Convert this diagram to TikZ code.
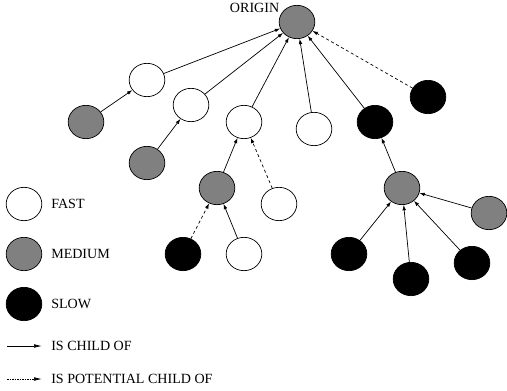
\documentclass[tikz,border=0pt]{standalone}
\usepackage{fontspec}
\setmainfont{Liberation Serif}
\usetikzlibrary{shapes.geometric,arrows.meta}

\begin{document}
\begin{tikzpicture}[x=0.03cm, y=-0.03cm, node distance=1.5cm,
    font=\fontsize{12}{14}\selectfont, line width=0.6pt,
    >={Latex[length=1.6mm,width=1.1mm]},
    peernode/.style={ellipse, draw, minimum width=1.07cm, minimum height=1cm, inner sep=0pt},
    fastpeer/.style={peernode, fill=white},
    mediumpeer/.style={peernode, fill=gray},
    slowpeer/.style={peernode, fill=black},
    childedge/.style={->},
    potentialedge/.style={->, dash pattern=on 0.9mm off 0.8mm},
    legendedge/.style={-{Latex[length=2.4mm,width=1.1mm]}, shorten >=0.15cm}]
    \useasboundingbox (0,0) rectangle (507,390);

    % Origin
    \node [mediumpeer] (origin) at (297,22) {};
    \node [anchor=south east, inner sep=0pt, xshift=-0.06cm] (originlabel) at (origin.150) {ORIGIN};

    % First level
    \node [fastpeer] (fastA) at (147,80) {};
    \node [fastpeer] (fastB) at (191,105) {};
    \node [fastpeer] (fastC) at (244,122) {};
    \node [fastpeer] (fastD) at (314,129) {};
    \node [slowpeer] (slowE) at (375,122) {};
    \node [slowpeer] (slowF) at (428,97) {};

    % Second level
    \node [mediumpeer] (medA) at (86,122) {};
    \node [mediumpeer] (medB) at (147,163) {};
    \node [mediumpeer] (medC) at (217,188) {};
    \node [fastpeer] (fastC2) at (279,204) {};
    \node [mediumpeer] (medE) at (402,188) {};

    % Third level
    \node [slowpeer] (slowC) at (183,254) {};
    \node [fastpeer] (fastC3) at (244,254) {};
    \node [mediumpeer] (medE2) at (489,213) {};
    \node [slowpeer] (slowE1) at (349,254) {};
    \node [slowpeer] (slowE2) at (411,279) {};
    \node [slowpeer] (slowE3) at (472,263) {};

    % Legend
    \node [fastpeer] (legfast) at (24,204) {};
    \node [mediumpeer, below of=legfast] (legmedium) {};
    \node [slowpeer, below of=legmedium] (legslow) {};
    \node [anchor=west] (fasttext) at (47,204) {FAST};
    \node [anchor=west] (mediumtext) at (47,254) {MEDIUM};
    \node [anchor=west] (slowtext) at (47,304) {SLOW};
    \node [anchor=west] (childtext) at (47,346) {IS CHILD OF};
    \node [anchor=west] (potentialtext) at (47,379) {IS POTENTIAL CHILD OF};
    \coordinate (childstart) at (7,346);
    \coordinate (potentialstart) at (7,379);

    % Arrows
    \draw[childedge] (fastA) -- (origin);
    \draw[childedge] (fastB) -- (origin);
    \draw[childedge] (fastC) -- (origin);
    \draw[childedge] (fastD) -- (origin);
    \draw[childedge] (slowE) -- (origin);
    \draw[potentialedge] (slowF) -- (origin);
    \draw[childedge] (medA) -- (fastA);
    \draw[childedge] (medB) -- (fastB);
    \draw[childedge] (medC) -- (fastC);
    \draw[potentialedge] (fastC2) -- (fastC);
    \draw[potentialedge] (slowC) -- (medC);
    \draw[childedge] (fastC3) -- (medC);
    \draw[childedge] (medE) -- (slowE);
    \draw[childedge] (medE2) -- (medE);
    \draw[childedge] (slowE1) -- (medE);
    \draw[childedge] (slowE2) -- (medE);
    \draw[childedge] (slowE3) -- (medE);
    \draw[legendedge] (childstart) -- (childtext.west);
    \draw[legendedge, dash pattern=on 0.45mm off 0.3mm] (potentialstart) -- (potentialtext.west);
\end{tikzpicture}
\end{document}
